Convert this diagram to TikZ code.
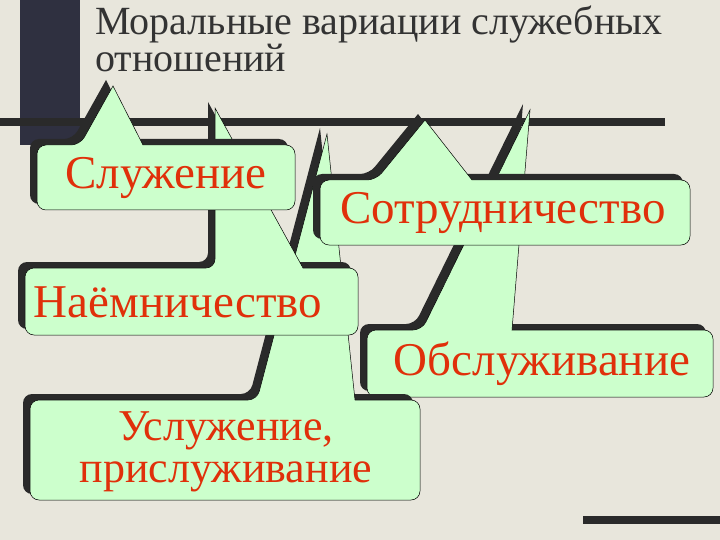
\documentclass[tikz,border=0pt]{standalone}
\usepackage{fontspec}
\setmainfont{Liberation Serif}
\definecolor{bg}{HTML}{E8E6DC}
\definecolor{bar}{HTML}{2F3040}
\definecolor{shad}{HTML}{2A2A2A}
\definecolor{bub}{HTML}{CCFFCC}
\definecolor{txt}{HTML}{E0300A}
\definecolor{ttl}{HTML}{333333}
\newcommand\bubpath[8]{(#6,#2) [rounded corners=9pt] -- (#3,#2) -- (#3,#4) -- (#1,#4) -- (#1,#2) -- (#5,#2) [sharp corners] -- (#7,#8) -- cycle}
\newcommand\callout[8]{%
  \fill[shad,shift={(-7,-6)}] \bubpath{#1}{#2}{#3}{#4}{#5}{#6}{#7}{#8};
  \filldraw[fill=bub,draw=black,line width=0.5pt] \bubpath{#1}{#2}{#3}{#4}{#5}{#6}{#7}{#8};}
\tikzset{lbl/.style={text=txt,font=\fontsize{47}{50}\selectfont,align=center,inner sep=0pt}}
\begin{document}
\begin{tikzpicture}[x=1pt,y=-1pt]
\useasboundingbox (0,0) rectangle (720,540);
\fill[bg] (0,0) rectangle (720,540);
\fill[bar] (20,0) rectangle (80,145);
\fill[shad] (0,118) rectangle (665,126);
\fill[shad] (583,516) rectangle (720,524);
\node[anchor=north west,text=ttl,font=\fontsize{40}{37}\selectfont,align=left,inner sep=0pt] (title) at (95,6) {Моральные вариации служебных\\отношений};
\callout{367}{330}{713}{397}{422}{512}{530}{110}
\callout{30}{400}{420}{500}{257}{355}{327}{134}
\callout{25}{268}{358}{335}{215}{303}{215}{108}
\callout{37}{145}{295}{210}{80}{143}{113}{86}
\callout{320}{180}{690}{245}{376}{472}{425}{120}
\node[lbl] (s1) at (166,178) {Служение};
\node[lbl] (s2) at (503,213) {Сотрудничество};
\node[lbl] (s3) at (178,302) {Наёмничество};
\node[lbl] (s4) at (542,364) {Обслуживание};
\node[lbl,font=\fontsize{44}{42}\selectfont] (s5) at (226,452) {Услужение,\\прислуживание};
\end{tikzpicture}
\end{document}
